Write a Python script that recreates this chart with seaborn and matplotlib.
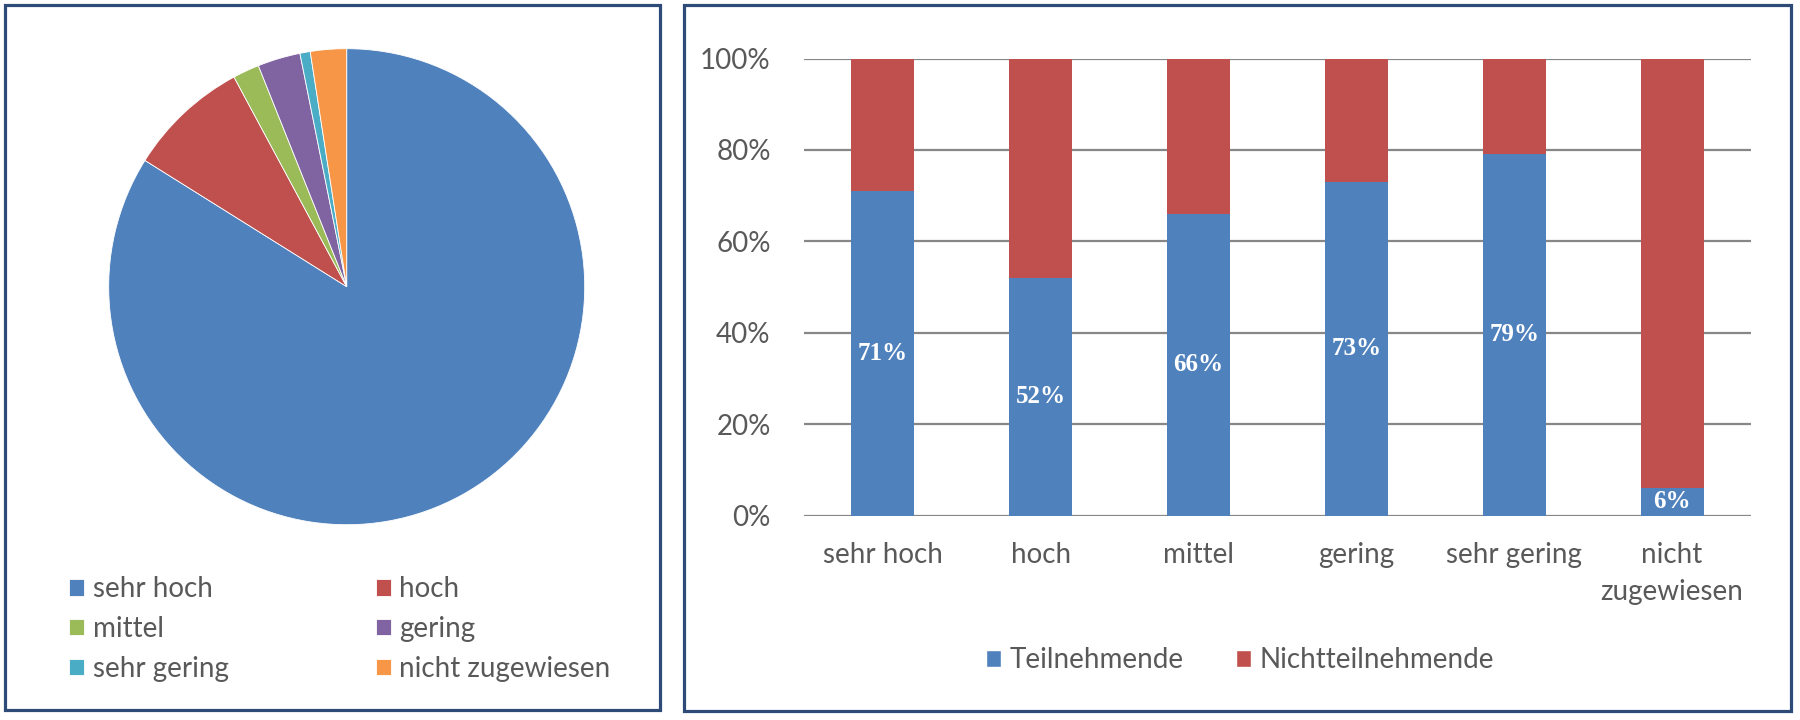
import matplotlib
matplotlib.use("Agg")
import matplotlib.pyplot as plt
from matplotlib.patches import Rectangle, Patch
import seaborn as sns
import pandas as pd

# ---- data ----
pie_labels = ["sehr hoch", "hoch", "mittel", "gering", "sehr gering", "nicht zugewiesen"]
pie_values = [83.9, 8.25, 1.8, 2.9, 0.7, 2.45]

bar_categories = ["sehr hoch", "hoch", "mittel", "gering", "sehr gering", "nicht\nzugewiesen"]
teilnehmende = [71, 52, 66, 73, 79, 6]
nichtteilnehmende = [29, 48, 34, 27, 21, 94]
series_names = ["Teilnehmende", "Nichtteilnehmende"]
y_ticks = [0, 20, 40, 60, 80, 100]

pie_colors = ["#4F81BD", "#C0504D", "#9BBB59", "#8064A2", "#4BACC6", "#F79646"]
c_teil = "#4F81BD"
c_nicht = "#C0504D"
txt_gray = "#595959"
border = "#2E4B78"

sns.set_theme(style="white")
plt.rcParams["font.family"] = ["Lato", "DejaVu Sans"]

fig = plt.figure(figsize=(18, 7.2), dpi=100)

# ---- panel borders ----
W, H = 1800, 720
def frame(x0, y0, x1, y1):
    fig.patches.append(Rectangle((x0 / W, 1 - y1 / H), (x1 - x0) / W, (y1 - y0) / H,
                                 transform=fig.transFigure, fill=False,
                                 edgecolor=border, linewidth=2.3, zorder=0))
frame(5, 5, 660, 710)
frame(684, 5, 1791, 711)

# ---- pie ----
axp = fig.add_axes([(346.7 - 238) / W, (720 - 286.7 - 238) / H, 476 / W, 476 / H])
wedges, _ = axp.pie(pie_values, colors=pie_colors, startangle=90, counterclock=False,
                    radius=1.0, wedgeprops=dict(linewidth=0.6, edgecolor="white"))
axp.set_xlim(-1, 1)
axp.set_ylim(-1, 1)
axp.set_aspect("equal")
axp.axis("off")

# legend filled row-wise (two columns)
order = [0, 2, 4, 1, 3, 5]
leg1 = fig.legend([wedges[i] for i in order], [pie_labels[i] for i in order],
                  ncol=2, loc="upper left",
                  bbox_to_anchor=(44 / W, 1 - 551 / H), bbox_transform=fig.transFigure,
                  frameon=False, fontsize=20, labelcolor=txt_gray,
                  handlelength=0.55, handleheight=0.55, handletextpad=0.3,
                  labelspacing=0.5, columnspacing=5.3)

# ---- stacked bars ----
df = pd.DataFrame({"cat": bar_categories, "teil": teilnehmende, "nicht": nichtteilnehmende})
df["total"] = df["teil"] + df["nicht"]

axb = fig.add_axes([804 / W, 204.5 / H, (1751 - 804) / W, (515.5 - 58.5) / H])
sns.barplot(data=df, x="cat", y="total", color=c_nicht, width=0.4, ax=axb,
            saturation=1, edgecolor="none", zorder=2)
sns.barplot(data=df, x="cat", y="teil", color=c_teil, width=0.4, ax=axb,
            saturation=1, edgecolor="none", zorder=3)

axb.set_ylim(0, 100)
axb.set_xlim(-0.5, len(bar_categories) - 0.5)
axb.set_yticks(y_ticks)
axb.set_yticklabels([f"{t}%" for t in y_ticks])
axb.yaxis.grid(True, color="#878787", linewidth=1.6, zorder=1)
axb.set_axisbelow(True)
for s in ["top", "right", "left", "bottom"]:
    axb.spines[s].set_visible(False)
axb.tick_params(axis="y", length=0, pad=24, labelsize=20, labelcolor=txt_gray)
axb.tick_params(axis="x", length=0, pad=19, labelsize=20, labelcolor=txt_gray)
axb.set_xlabel("")
axb.set_ylabel("")
for lab in axb.get_xticklabels():
    lab.set_linespacing(1.55)
    lab.set_verticalalignment("top")

for i, v in enumerate(teilnehmende):
    axb.text(i, v / 2, f"{v}%", ha="center", va="center", color="white",
             fontsize=18, fontweight="bold", family=["Liberation Serif", "DejaVu Serif"],
             zorder=5)

handles = [Patch(facecolor=c_teil), Patch(facecolor=c_nicht)]
fig.legend(handles, series_names, ncol=2, loc="center",
           bbox_to_anchor=(1240 / W, 1 - 660 / H), bbox_transform=fig.transFigure,
           frameon=False, fontsize=20, labelcolor=txt_gray,
           handlelength=0.55, handleheight=0.55, handletextpad=0.3, columnspacing=1.9)

fig.savefig("out.png", dpi=100, facecolor="white")
